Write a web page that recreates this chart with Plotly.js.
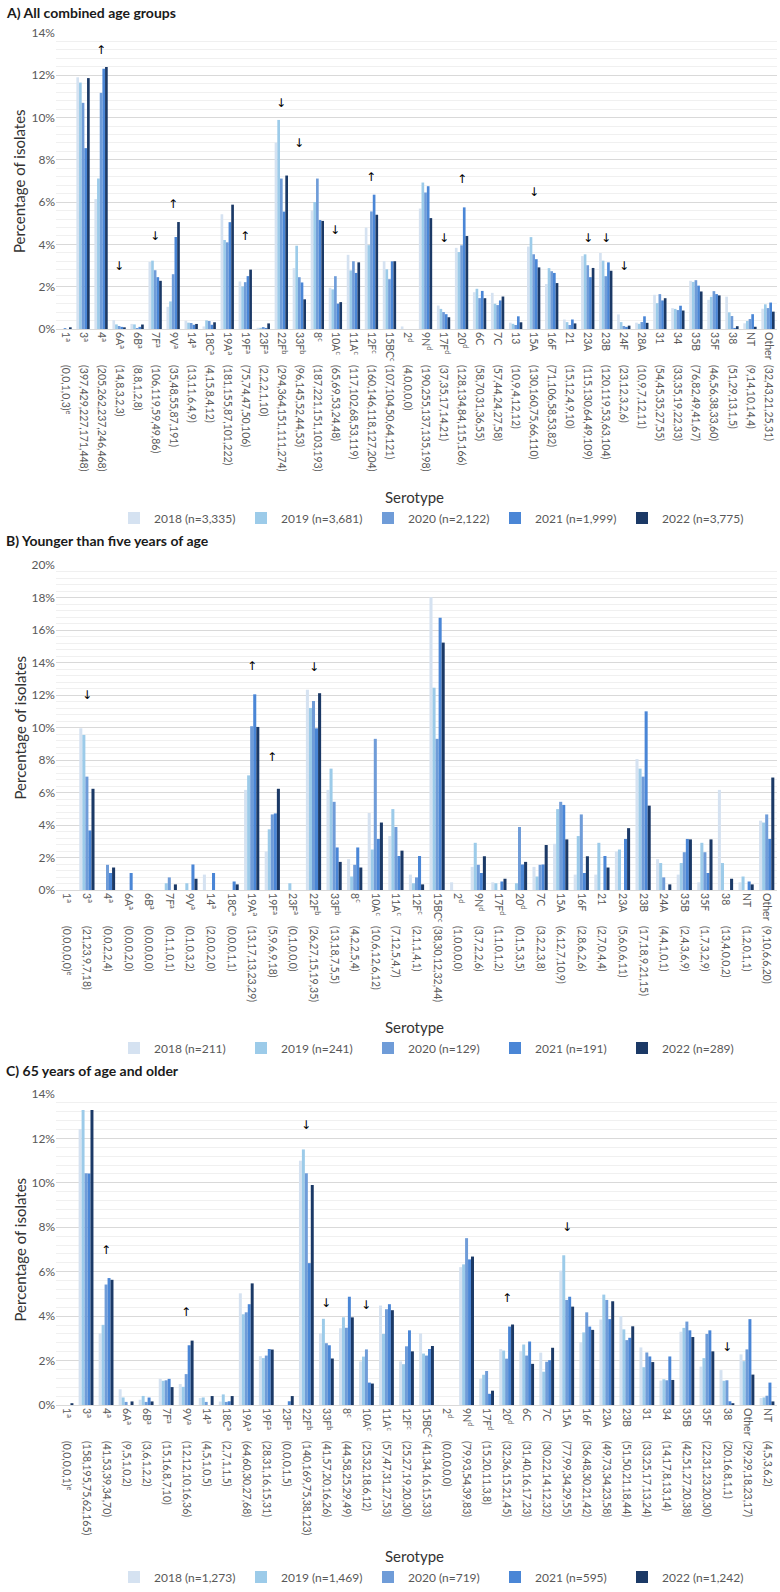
<!DOCTYPE html>
<html>
<head>
<meta charset="utf-8">
<script src="https://cdn.plot.ly/plotly-3.0.1.min.js"></script>
<style>html,body{margin:0;padding:0;background:#fff;}</style>
</head>
<body>
<div id="chart" style="width:780px;height:1592px;"></div>
<script>
// ---------------- DATA ----------------
const years = ['2018', '2019', '2020', '2021', '2022'];

// Panel A: all combined age groups
const A_n = [3335, 3681, 2122, 1999, 3775];
const A_serotypes = ['1','3','4','6A','6B','7F','9V','14','18C','19A','19F','23F','22F','33F','8','10A','11A','12F','15BC','2','9N','17F','20','6C','7C','13','15A','16F','21','23A','23B','24F','28A','31','34','35B','35F','38','NT','Other'];
const A_notes = ['a','a','a','a','a','a','a','a','a','a','a','a','b','b','c','c','c','c','c','d','d','d','d','','','','','','','','','','','','','','','','',''];
const A_counts = [
  [0,0,1,0,3],[397,429,227,171,448],[205,262,237,246,468],[14,8,3,2,3],[8,8,1,2,8],
  [106,119,59,49,86],[35,48,55,87,191],[13,11,6,4,9],[4,15,8,4,12],[181,155,87,101,222],
  [75,74,47,50,106],[2,2,2,1,10],[294,364,151,111,274],[96,145,52,44,53],[187,221,151,103,193],
  [65,69,53,24,48],[117,102,68,53,119],[160,146,118,127,204],[107,104,50,64,121],[4,0,0,0,0],
  [190,255,137,135,198],[37,35,17,14,21],[128,134,84,115,166],[58,70,31,36,55],[57,44,24,27,58],
  [10,9,4,12,12],[130,160,75,66,110],[71,106,58,53,82],[15,12,4,9,10],[115,130,64,49,109],
  [120,119,53,63,104],[23,12,3,2,6],[10,9,7,12,11],[54,45,35,27,55],[33,35,19,22,33],
  [76,82,49,41,67],[46,56,38,33,60],[51,29,13,1,5],[9,14,10,14,4],[32,43,21,25,31]
];
// trend arrows: serotype, direction, and the percentage level where the arrow sits
const A_arrowSerotypes = ['4','6A','7F','9V','19F','22F','33F','10A','12F','17F','20','15A','23A','23B','24F'];
const A_arrowDirs = ['up','down','down','up','up','down','down','down','up','down','up','down','down','down','down'];
const A_arrowLevels = [13.2, 3.0, 4.4, 5.9, 4.4, 10.7, 8.8, 4.7, 7.2, 4.3, 7.1, 6.5, 4.3, 4.3, 3.0];

// Panel B: younger than five years of age
const B_n = [211, 241, 129, 191, 289];
const B_serotypes = ['1','3','4','6A','6B','7F','9V','14','18C','19A','19F','23F','22F','33F','8','10A','11A','12F','15BC','2','9N','17F','20','7C','15A','16F','21','23A','23B','24A','35B','35F','38','NT','Other'];
const B_notes = ['a','a','a','a','a','a','a','a','a','a','a','a','b','b','c','c','c','c','c','d','d','d','d','','','','','','','','','','','',''];
const B_counts = [
  [0,0,0,0,0],[21,23,9,7,18],[0,0,2,2,4],[0,0,0,2,0],[0,0,0,0,0],
  [0,1,1,0,1],[0,1,0,3,2],[2,0,0,2,0],[0,0,0,1,1],[13,17,13,23,29],
  [5,9,6,9,18],[0,1,0,0,0],[26,27,15,19,35],[13,18,7,5,5],[4,2,2,5,4],
  [10,6,12,6,12],[7,12,5,4,7],[2,1,1,4,1],[38,30,12,32,44],[1,0,0,0,0],
  [3,7,2,2,6],[1,1,0,1,2],[0,1,5,3,5],[3,2,2,3,8],[6,12,7,10,9],
  [2,8,6,2,6],[2,7,0,4,4],[5,6,0,6,11],[17,18,9,21,15],[4,4,1,0,1],
  [2,4,3,6,9],[1,7,3,2,9],[13,4,0,0,2],[1,2,0,1,1],[9,10,6,6,20]
];
const B_arrowSerotypes = ['3','19A','19F','22F'];
const B_arrowDirs = ['down','up','up','down'];
const B_arrowLevels = [12.0, 13.8, 8.2, 13.7];

// Panel C: 65 years of age and older
const C_n = [1273, 1469, 719, 595, 1242];
const C_serotypes = ['1','3','4','6A','6B','7F','9V','14','18C','19A','19F','23F','22F','33F','8','10A','11A','12F','15BC','2','9N','17F','20','6C','7C','15A','16F','23A','23B','31','34','35B','35F','38','Other','NT'];
const C_notes = ['a','a','a','a','a','a','a','a','a','a','a','a','b','b','c','c','c','c','c','d','d','d','d','','','','','','','','','','','','',''];
const C_counts = [
  [0,0,0,0,1],[158,195,75,62,165],[41,53,39,34,70],[9,5,1,0,2],[3,6,1,2,2],
  [15,16,8,7,10],[12,12,10,16,36],[4,5,1,0,5],[2,7,1,1,5],[64,60,30,27,68],
  [28,31,16,15,31],[0,0,0,1,5],[140,169,75,38,123],[41,57,20,16,26],[44,58,25,29,49],
  [25,32,18,6,12],[57,47,31,27,53],[25,27,19,20,30],[41,34,16,15,33],[0,0,0,0,0],
  [79,93,54,39,83],[15,20,11,3,8],[32,36,15,21,45],[31,40,16,17,23],[30,22,14,12,32],
  [77,99,34,29,55],[36,48,30,21,42],[49,73,34,23,58],[51,50,21,18,44],[33,25,17,13,24],
  [14,17,8,13,14],[42,51,27,20,38],[22,31,23,20,30],[20,16,8,1,1],[29,29,18,23,17],
  [4,5,3,6,2]
];
const C_arrowSerotypes = ['4','9V','22F','33F','10A','20','15A','38'];
const C_arrowDirs = ['up','up','down','down','down','up','down','down'];
const C_arrowLevels = [7.0, 4.2, 12.6, 4.6, 4.5, 4.8, 8.0, 2.6];

const firstRowNote = 'e';

// ---------------- STYLE / LAYOUT ----------------
const W = 780, H = 1592;
const FONT = 'Lato, "Noto Sans", Arial, sans-serif';
const barColors = ['#d5e2f1', '#9ccbe9', '#6f9cd8', '#4a86d6', '#1b3966'];
const py = px => 1 - px / H;
const pxX = px => px / W;

const panels = [
  {title: 'A) All combined age groups', n: A_n, sero: A_serotypes, notes: A_notes, counts: A_counts,
   arrows: A_arrowSerotypes, dirs: A_arrowDirs, levels: A_arrowLevels, ymax: 14,
   top: 33, bottom: 329, titleY: 13, seroY: 497, legendY: 518},
  {title: 'B) Younger than five years of age', n: B_n, sero: B_serotypes, notes: B_notes, counts: B_counts,
   arrows: B_arrowSerotypes, dirs: B_arrowDirs, levels: B_arrowLevels, ymax: 20,
   top: 565, bottom: 890, titleY: 541, seroY: 1027, legendY: 1048},
  {title: 'C) 65 years of age and older', n: C_n, sero: C_serotypes, notes: C_notes, counts: C_counts,
   arrows: C_arrowSerotypes, dirs: C_arrowDirs, levels: C_arrowLevels, ymax: 14,
   top: 1094, bottom: 1405, titleY: 1070, seroY: 1556, legendY: 1577}
];

const traces = [];
const layout = {
  width: W, height: H,
  margin: {l: 0, r: 0, t: 0, b: 0, pad: 0},
  paper_bgcolor: '#fff', plot_bgcolor: '#fff',
  barmode: 'group', bargap: 0.26, bargroupgap: 0,
  font: {family: FONT, color: '#595959'},
  showlegend: true,
  annotations: []
};

panels.forEach((p, i) => {
  const k = i + 1;
  const xa = k === 1 ? 'x' : 'x' + k;
  const ya = k === 1 ? 'y' : 'y' + k;
  const xo = 'x' + (k + 3);
  const lg = k === 1 ? 'legend' : 'legend' + k;
  const nCat = p.sero.length;

  years.forEach((yr, j) => {
    traces.push({
      type: 'bar',
      x: p.sero,
      y: p.counts.map(r => r[j] / p.n[j] * 100),
      name: yr + ' (n=' + p.n[j].toLocaleString('en-US') + ')',
      marker: {color: barColors[j], line: {width: 0}},
      xaxis: xa, yaxis: ya, legend: lg,
      hovertemplate: '%{x}: %{y:.2f}%<extra>' + yr + '</extra>'
    });
  });
  // invisible trace so the counts axis knows the categories
  traces.push({
    type: 'scatter', mode: 'markers', x: p.sero, y: p.sero.map(() => 0),
    marker: {opacity: 0, size: 1}, xaxis: xo, yaxis: ya,
    showlegend: false, hoverinfo: 'skip'
  });

  const nameText = p.sero.map((s, idx) => p.notes[idx] ? s + '<sup>' + p.notes[idx] + '</sup>' : s);
  const countText = p.counts.map((r, idx) => '(' + r.join(',') + ')' + (idx === 0 ? '<sup>' + firstRowNote + '</sup>' : ''));

  const dom = [pxX(56), pxX(777)];
  const tickFont = {family: FONT, size: 10.5, color: '#595959'};

  layout['xaxis' + (k === 1 ? '' : k)] = {
    domain: dom, anchor: ya, type: 'category',
    categoryorder: 'array', categoryarray: p.sero,
    range: [-0.5, nCat - 0.5],
    tickmode: 'array', tickvals: p.sero, ticktext: nameText,
    tickangle: 90, ticks: '', tickfont: tickFont,
    showline: true, linecolor: '#d9d9d9', linewidth: 1,
    showgrid: false, zeroline: false, fixedrange: true
  };
  layout['xaxis' + (k + 3)] = {
    overlaying: xa, anchor: ya, side: 'bottom', type: 'category',
    categoryorder: 'array', categoryarray: p.sero,
    range: [-0.5, nCat - 0.5],
    tickmode: 'array', tickvals: p.sero, ticktext: countText,
    tickangle: 90, ticks: '', tickfont: tickFont, ticklabelstandoff: 35,
    showline: false, showgrid: false, zeroline: false, fixedrange: true
  };
  layout['yaxis' + (k === 1 ? '' : k)] = {
    domain: [py(p.bottom), py(p.top)], anchor: xa,
    range: [0, p.ymax], dtick: 2, ticksuffix: '%',
    tickfont: {family: FONT, size: 12, color: '#595959'},
    gridcolor: '#d9d9d9', gridwidth: 1,
    minor: {dtick: 0.4, showgrid: true, gridcolor: '#f0f0f0', gridwidth: 1},
    zeroline: false, showline: false, ticks: '', fixedrange: true
  };
  layout[lg] = {
    orientation: 'h', x: pxX(114), y: py(p.legendY), xanchor: 'left', yanchor: 'middle',
    font: {family: FONT, size: 12, color: '#595959'},
    bgcolor: 'rgba(0,0,0,0)', entrywidth: 82, entrywidthmode: 'pixels', traceorder: 'normal'
  };

  // panel title
  layout.annotations.push({
    xref: 'paper', yref: 'paper', x: pxX(4), y: py(p.titleY), xanchor: 'left', yanchor: 'middle',
    text: '<b>' + p.title + '</b>', showarrow: false,
    font: {family: FONT, size: 14, color: '#1a1a1a'}
  });
  // y axis title
  layout.annotations.push({
    xref: 'paper', yref: 'paper', x: pxX(19), y: py((p.top + p.bottom) / 2),
    xanchor: 'center', yanchor: 'middle', textangle: -90,
    text: 'Percentage of isolates', showarrow: false,
    font: {family: FONT, size: 15, color: '#333333'}
  });
  // x axis title
  layout.annotations.push({
    xref: 'paper', yref: 'paper', x: pxX(414), y: py(p.seroY), xanchor: 'center', yanchor: 'middle',
    text: 'Serotype', showarrow: false,
    font: {family: FONT, size: 15, color: '#333333'}
  });
  // trend arrows (placed by category index on the category axis)
  p.arrows.forEach((s, idx) => {
    layout.annotations.push({
      xref: xa, yref: ya, x: p.sero.indexOf(s), y: p.levels[idx], xanchor: 'center', yanchor: 'middle',
      text: p.dirs[idx] === 'up' ? '↑' : '↓', showarrow: false,
      font: {family: '"DejaVu Sans", sans-serif', size: 12, color: '#000000'}
    });
  });
});

Plotly.newPlot('chart', traces, layout, {staticPlot: true, responsive: false});
</script>
</body>
</html>
